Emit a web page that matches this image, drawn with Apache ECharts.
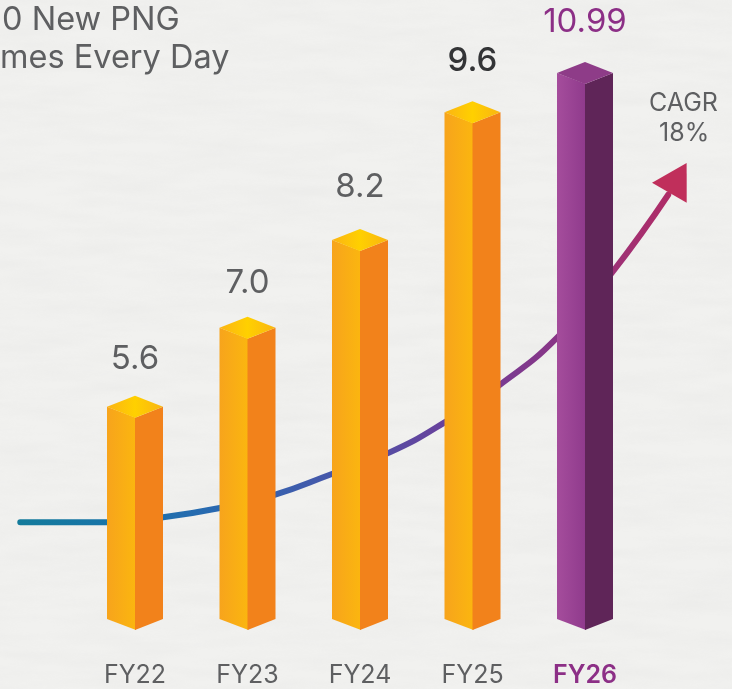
<!DOCTYPE html>
<html>
<head>
<meta charset="utf-8">
<style>
html,body{margin:0;padding:0;background:#f1f1ef;}
#paper{position:absolute;left:0;top:0;width:732px;height:689px;}
#chart{position:absolute;left:0;top:0;width:732px;height:689px;}
</style>
<script src="https://cdn.jsdelivr.net/npm/echarts@6/dist/echarts.min.js"></script>
</head>
<body>
<!-- paper grain behind the chart -->
<svg id="paper" xmlns="http://www.w3.org/2000/svg">
	<filter id="grain">
		<feTurbulence type="fractalNoise" baseFrequency="0.012 0.07" numOctaves="4" seed="7"/>
		<feColorMatrix type="matrix" values="0 0 0 0 0.55  0 0 0 0 0.55  0 0 0 0 0.55  0.7 0 0 0 -0.22"/>
	</filter>
	<rect width="732" height="689" filter="url(#grain)" opacity="0.22"/>
</svg>
<div id="chart"></div>
<script>
var categories = ['FY22', 'FY23', 'FY24', 'FY25', 'FY26'];
var valueLabels = ['5.6', '7.0', '8.2', '9.6', '10.99'];
// the bars in the picture are not to scale with their printed numbers,
// so heights are read off the picture, in units where FY26 = 10.99
var barHeights = [4.27, 5.86, 7.63, 10.2, 10.99];
var curveX = [-1.02, -0.25, 0.25, 0.76, 1.24, 1.75, 2.25, 2.76, 3.24, 3.75, 4.24, 4.74];
var curveY = [2.17, 2.17, 2.27, 2.46, 2.72, 3.14, 3.56, 4.19, 4.93, 5.88, 7.19, 8.76];
var arrowHead = [4.827, 9.10];

var font = 'Inter, "Open Sans", sans-serif';
var grey = '#5e5f61';
var purple = '#8c2f86';
var labelGaps = [37, 34, 42, 40, 40];

function grad(stops){
	return new echarts.graphic.LinearGradient(0, 0, 1, 0, stops.map(function(c, i){
		return {offset: i / (stops.length - 1), color: c};
	}));
}
var yellowSet = {left: grad(['#f7a41c', '#fbb60f']), right: '#f2821b', top: grad(['#fbb414', '#ffd000', '#f9b512'])};
var purpleSet = {left: grad(['#a54d9c', '#8f3a8c']), right: '#5f2558', top: '#8e3c88'};

function renderBar(params, api){
	var i = params.dataIndex;
	var base = api.coord([api.value(0), 0]);
	var top = api.coord([api.value(0), api.value(1)]);
	var cx = base[0], by = base[1], ty = top[1];
	var hw = 28, dep = 11;
	var c = i === 4 ? purpleSet : yellowSet;
	var labelColor = i === 4 ? purple : (i === 3 ? '#333436' : grey);
	return {
		type: 'group',
		children: [
			// left face runs 1px under the right one so the curve does not show in the seam
			{type: 'polygon', shape: {points: [[cx - hw, ty - dep], [cx + 1, ty], [cx + 1, by], [cx - hw, by - dep]]}, style: {fill: c.left}},
			{type: 'polygon', shape: {points: [[cx, ty], [cx + hw, ty - dep], [cx + hw, by - dep], [cx, by]]}, style: {fill: c.right}},
			{type: 'polygon', shape: {points: [[cx - hw, ty - dep], [cx, ty - 2 * dep], [cx + hw, ty - dep], [cx, ty]]}, style: {fill: c.top}},
			{type: 'text', style: {
				text: valueLabels[i], x: cx, y: ty - 2 * dep - labelGaps[i],
				align: 'center', verticalAlign: 'middle',
				font: (i === 3 ? '500 ' : '') + '33px ' + font, fill: labelColor
			}}
		]
	};
}

var myChart = echarts.init(document.getElementById('chart'));
var option = {
	animation: false,
	backgroundColor: 'transparent',
	grid: [
		{left: 78.75, right: 90.75, top: 0, bottom: 59},
		{left: 0, right: 0, top: 0, bottom: 59}
	],
	xAxis: [
		{
			type: 'category',
			gridIndex: 0,
			data: categories,
			axisLine: {show: false},
			axisTick: {show: false},
			axisLabel: {
				interval: 0,
				margin: 33,
				fontFamily: font,
				fontSize: 25,
				color: grey,
				formatter: function(v){ return v === 'FY26' ? '{b|' + v + '}' : v; },
				rich: {b: {fontFamily: font, fontSize: 25, fontWeight: 600, color: purple}}
			}
		},
		{type: 'value', gridIndex: 1, show: false, min: -1.2, max: 5.307}
	],
	yAxis: [
		{type: 'value', gridIndex: 0, show: false, min: 0, max: 12.68},
		{type: 'value', gridIndex: 1, show: false, min: 0, max: 12.68}
	],
	series: [
		{
			type: 'line',
			xAxisIndex: 1,
			yAxisIndex: 1,
			smooth: 0.5,
			symbol: 'none',
			z: 1,
			data: curveX.map(function(x, i){ return [x, curveY[i]]; }),
			lineStyle: {
				width: 6,
				cap: 'round',
				color: grad(['#137b9b', '#1a73ab', '#2d67b2', '#4a55a8', '#6b3f9b', '#8b3585', '#b02c66'])
			}
		},
		{
			type: 'scatter',
			xAxisIndex: 1,
			yAxisIndex: 1,
			z: 2,
			symbol: 'triangle',
			symbolSize: [40, 34.6],
			symbolRotate: -30,
			itemStyle: {color: '#c02f5b', opacity: 1},
			data: [arrowHead]
		},
		{
			type: 'custom',
			xAxisIndex: 0,
			yAxisIndex: 0,
			z: 3,
			renderItem: renderBar,
			data: barHeights.map(function(h, i){ return [i, h]; })
		}
	],
	graphic: [
		{type: 'text', left: 2, top: 4, style: {text: '0 New PNG', font: '32.5px ' + font, fill: grey}},
		{type: 'text', left: 0, top: 42, style: {text: 'mes Every Day', font: '32.5px ' + font, fill: grey}},
		{type: 'text', left: 649, top: 91, style: {text: 'CAGR', font: '25px ' + font, fill: grey}},
		{type: 'text', left: 659, top: 121, style: {text: '18%', font: '25px ' + font, fill: grey}}
	]
};
myChart.setOption(option);
</script>
</body>
</html>
